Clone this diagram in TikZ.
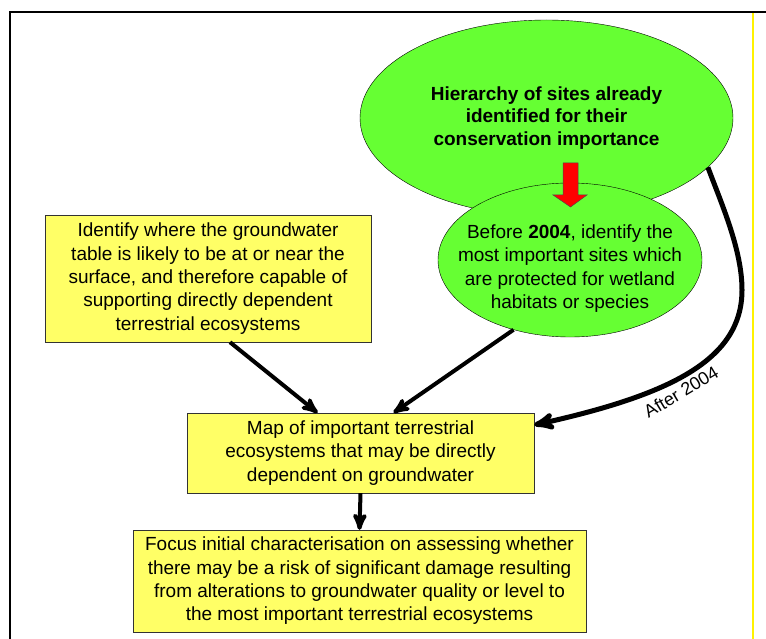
\documentclass[tikz,border=0pt]{standalone}
\usepackage{fontspec}
\setmainfont{Liberation Sans}
\usetikzlibrary{arrows, shapes.geometric}
\definecolor{leaf}{HTML}{66FF33}
\definecolor{note}{HTML}{FFFF66}

\begin{document}
\begin{tikzpicture}[x = 1pt, y = -1pt]
\useasboundingbox (0,0) rectangle (766,639);
\tikzstyle{NoteStyle}=[
shape = rectangle,
fill = note,
draw = black!80,
inner sep = 0pt,
align = center,
font = \fontsize{19}{23.3}\selectfont]
\tikzstyle{SiteStyle}=[
shape = ellipse,
fill = leaf,
draw,
inner sep = 0pt,
align = center,
font = \fontsize{19}{22.5}\selectfont]
\tikzstyle{LinkStyle}=[->, >=stealth', line width = 4pt]
\draw[line width = 2pt] (10,639) -- (10,12) -- (766,12);
\draw[yellow, line width = 1.5pt] (753,13) -- (753,639);
\node[SiteStyle, minimum width = 373, minimum height = 196, font = \fontsize{19}{22.5}\selectfont\bfseries] (hier) at (546.5,118) {Hierarchy of sites already\\identified for their\\conservation importance};
\node[SiteStyle, minimum width = 264, minimum height = 154] (prot) at (570,260) {};
\node[align = center, font = \fontsize{19}{23.5}\selectfont] (prottext) at (570,268.5) {Before \textbf{2004}, identify the\\most important sites which\\are protected for wetland\\habitats or species};
\draw[fill = red, draw = black!70, line width = 0.5pt] (563,163) -- (578,163) -- (578,195) -- (587,195) -- (570.5,207) -- (553,195) -- (563,195) -- cycle;
\node[NoteStyle, minimum width = 326, minimum height = 127] (ident) at (208,278.5) {Identify where the groundwater\\table is likely to be at or near the\\surface, and therefore capable of\\supporting directly dependent\\terrestrial ecosystems};
\node[NoteStyle, minimum width = 347, minimum height = 80] (map) at (360.5,453) {Map of important terrestrial\\ecosystems that may be directly\\dependent on groundwater};
\node[NoteStyle, minimum width = 453, minimum height = 102] (focus) at (359.5,581) {Focus initial characterisation on assessing whether\\there may be a risk of significant damage resulting\\from alterations to groundwater quality or level to\\the most important terrestrial ecosystems};
\draw[LinkStyle] ([xshift = 22]ident.south) -- ([xshift = -43]map.north);
\draw[LinkStyle] (prot.231) -- ([xshift = 33]map.north);
\draw[LinkStyle] (map.south) -- (focus.north);
\draw[LinkStyle, line width = 5pt] (hier.343) .. controls (722,205) and (742,250) .. (742,290) .. controls (742,360) and (670,395) .. ([yshift = 28]map.east);
\node[rotate = 31, font = \fontsize{18}{21}\selectfont] (after) at (681,392) {After 2004};
\end{tikzpicture}
\end{document}
